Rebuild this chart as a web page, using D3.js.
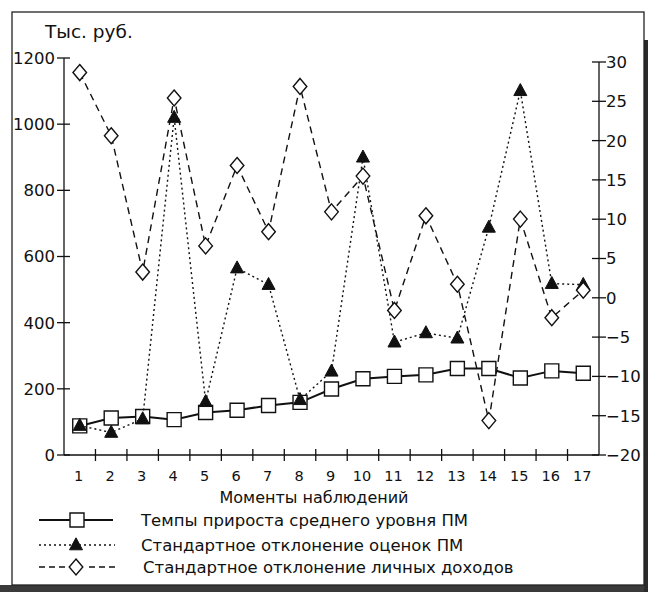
<!DOCTYPE html>
<html>
<head>
<meta charset="utf-8">
<script src="https://cdn.jsdelivr.net/npm/d3@7"></script>
<style>
  html, body { margin: 0; padding: 0; background: #fff; }
  svg { display: block; }
  text { font-family: "DejaVu Sans", "Noto Sans", sans-serif; fill: #111; }
</style>
</head>
<body>
<svg id="chart" width="648" height="592"></svg>
<script>
// ---- Data ----
const moments = [1, 2, 3, 4, 5, 6, 7, 8, 9, 10, 11, 12, 13, 14, 15, 16, 17];
// Темпы прироста среднего уровня ПМ (right axis)
const growthPM = [-16.3, -15.3, -15.1, -15.5, -14.6, -14.3, -13.7, -13.3, -11.6, -10.3, -10.0, -9.8, -9.0, -9.0, -10.2, -9.3, -9.6];
// Стандартное отклонение оценок ПМ (left axis, тыс. руб.)
const sdPM = [89, 68, 109, 1020, 161, 565, 515, 167, 253, 900, 341, 369, 353, 688, 1101, 518, 515];
// Стандартное отклонение личных доходов (left axis, тыс. руб.)
const sdIncome = [1156, 965, 553, 1079, 632, 875, 675, 1114, 735, 843, 437, 723, 516, 104, 713, 415, 498];
const leftTicks = [0, 200, 400, 600, 800, 1000, 1200];
const rightTicks = [-20, -15, -10, -5, 0, 5, 10, 15, 20, 25, 30];
const legendLabels = [
  "Темпы прироста среднего уровня ПМ",
  "Стандартное отклонение оценок ПМ",
  "Стандартное отклонение личных доходов"
];

const svg = d3.select("#chart");

// frame + scan shadow
svg.append("rect").attr("x", 0).attr("y", 585).attr("width", 648).attr("height", 7).attr("fill", "#3a3a3a");
svg.append("rect").attr("x", 644).attr("y", 40).attr("width", 4).attr("height", 552).attr("fill", "#2a2a2a");
svg.append("rect").attr("x", 12).attr("y", 12).attr("width", 632).attr("height", 573)
  .attr("fill", "#fff").attr("stroke", "#222").attr("stroke-width", 1.3);

const xLeft = 64, xRight = 599, yBottom = 455;
const x = d3.scaleBand().domain(moments).range([xLeft, xRight]);
const cx = d => x(d) + x.bandwidth() / 2;
const yL = d3.scaleLinear().domain([0, 1200]).range([yBottom, 58]);
const yR = d3.scaleLinear().domain([-20, 30]).range([yBottom, 62]);

const ink = "#111";

// left axis
const gL = svg.append("g");
gL.append("line").attr("x1", xLeft).attr("x2", xLeft).attr("y1", yL(1200)).attr("y2", yBottom)
  .attr("stroke", ink).attr("stroke-width", 1.3);
gL.selectAll("line.t").data(leftTicks).join("line").attr("class", "t")
  .attr("x1", xLeft - 7).attr("x2", xLeft + 6).attr("y1", d => yL(d)).attr("y2", d => yL(d))
  .attr("stroke", ink).attr("stroke-width", 1.3);
gL.selectAll("text").data(leftTicks).join("text")
  .attr("x", xLeft - 9).attr("y", d => yL(d)).attr("dy", "0.36em")
  .attr("text-anchor", "end").attr("font-size", 16.5).text(d => d);

// right axis
const gR = svg.append("g");
gR.append("line").attr("x1", xRight).attr("x2", xRight).attr("y1", yR(30)).attr("y2", yBottom)
  .attr("stroke", ink).attr("stroke-width", 1.3);
gR.selectAll("line.t").data(rightTicks).join("line").attr("class", "t")
  .attr("x1", xRight - 7).attr("x2", xRight + 7).attr("y1", d => yR(d)).attr("y2", d => yR(d))
  .attr("stroke", ink).attr("stroke-width", 1.3);
gR.selectAll("text").data(rightTicks).join("text")
  .attr("x", xRight + 7).attr("y", d => yR(d)).attr("dy", "0.36em")
  .attr("text-anchor", "start").attr("font-size", 16.5).text(d => d < 0 ? "\u2212" + Math.abs(d) : d);

// x axis
const gX = svg.append("g");
gX.append("line").attr("x1", xLeft).attr("x2", xRight).attr("y1", yBottom).attr("y2", yBottom)
  .attr("stroke", ink).attr("stroke-width", 1.3);
gX.selectAll("line.t").data(moments.slice(1)).join("line").attr("class", "t")
  .attr("x1", d => x(d)).attr("x2", d => x(d)).attr("y1", yBottom - 6).attr("y2", yBottom + 6)
  .attr("stroke", ink).attr("stroke-width", 1.3);
gX.selectAll("text").data(moments).join("text")
  .attr("x", d => cx(d) - 1).attr("y", 481)
  .attr("text-anchor", "middle").attr("font-size", 14.5).text(d => d);

svg.append("text").attr("x", 314).attr("y", 503).attr("text-anchor", "middle")
  .attr("font-size", 16).text("Моменты наблюдений");
svg.append("text").attr("x", 45).attr("y", 38).attr("font-size", 18.5).text("Тыс. руб.");

// series
const lineR = d3.line().x((d, i) => cx(moments[i])).y(d => yR(d));
const lineL = d3.line().x((d, i) => cx(moments[i])).y(d => yL(d));

const sqSize = 14, triW = 13, triH = 12, dia = 8;
const sqPath = (px, py) => `M${px - sqSize/2},${py - sqSize/2}h${sqSize}v${sqSize}h${-sqSize}Z`;
const triPath = (px, py) => `M${px},${py - triH*0.6}L${px + triW/2},${py + triH*0.4}L${px - triW/2},${py + triH*0.4}Z`;
const diaPath = (px, py) => `M${px},${py - dia}L${px + dia*0.85},${py}L${px},${py + dia}L${px - dia*0.85},${py}Z`;

// squares
svg.append("path").datum(growthPM).attr("d", lineR).attr("fill", "none")
  .attr("stroke", ink).attr("stroke-width", 2);
svg.append("g").selectAll("path").data(growthPM).join("path")
  .attr("d", (d, i) => sqPath(cx(moments[i]), yR(d)))
  .attr("fill", "#fff").attr("stroke", ink).attr("stroke-width", 1.4);

// triangles
svg.append("path").datum(sdPM).attr("d", lineL).attr("fill", "none")
  .attr("stroke", ink).attr("stroke-width", 1.4).attr("stroke-dasharray", "2,3");
svg.append("g").selectAll("path").data(sdPM).join("path")
  .attr("d", (d, i) => triPath(cx(moments[i]), yL(d)))
  .attr("fill", "#111").attr("stroke", ink).attr("stroke-width", 1);

// diamonds
svg.append("path").datum(sdIncome).attr("d", lineL).attr("fill", "none")
  .attr("stroke", ink).attr("stroke-width", 1.4).attr("stroke-dasharray", "7,5");
svg.append("g").selectAll("path").data(sdIncome).join("path")
  .attr("d", (d, i) => diaPath(cx(moments[i]), yL(d)))
  .attr("fill", "#fff").attr("stroke", ink).attr("stroke-width", 1.4);

// legend
const legY = [520, 545, 567];
const legX = [141, 141, 143];
const lg = svg.append("g");
// row 1
lg.append("line").attr("x1", 39).attr("x2", 113).attr("y1", legY[0]).attr("y2", legY[0])
  .attr("stroke", ink).attr("stroke-width", 2);
lg.append("path").attr("d", sqPath(77, legY[0])).attr("fill", "#fff").attr("stroke", ink).attr("stroke-width", 1.4);
// row 2
lg.append("line").attr("x1", 39).attr("x2", 115).attr("y1", legY[1]).attr("y2", legY[1])
  .attr("stroke", ink).attr("stroke-width", 1.4).attr("stroke-dasharray", "2,3");
lg.append("path").attr("d", triPath(76, legY[1])).attr("fill", "#111").attr("stroke", ink).attr("stroke-width", 1);
// row 3
lg.append("line").attr("x1", 39).attr("x2", 115).attr("y1", legY[2]).attr("y2", legY[2])
  .attr("stroke", ink).attr("stroke-width", 1.4).attr("stroke-dasharray", "6,4");
lg.append("rect").attr("x", 66).attr("y", legY[2] - 9).attr("width", 20).attr("height", 18).attr("fill", "#fff");
lg.append("path").attr("d", diaPath(76, legY[2])).attr("fill", "#fff").attr("stroke", ink).attr("stroke-width", 1.4);
lg.selectAll("text").data(legendLabels).join("text")
  .attr("x", (d, i) => legX[i]).attr("y", (d, i) => legY[i]).attr("dy", "0.36em")
  .attr("font-size", 16.5).text(d => d);
</script>
</body>
</html>
